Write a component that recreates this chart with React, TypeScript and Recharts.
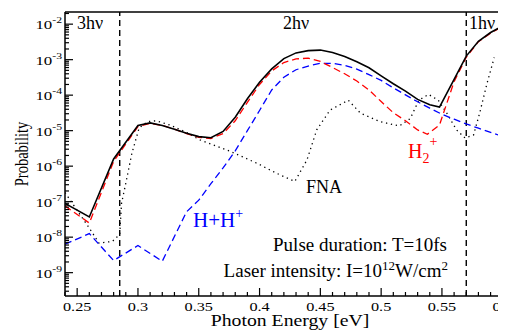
import React from "react";
import { LineChart, Line, XAxis, YAxis, ReferenceLine } from "recharts";

const FONT = '"Liberation Serif", "Times New Roman", serif';

// photon energy (eV) and probability, one pair of arrays per curve
const totalE = [0.24, 0.26, 0.28, 0.3, 0.31, 0.32, 0.33, 0.34, 0.35, 0.36, 0.37, 0.38, 0.39, 0.4, 0.41, 0.42, 0.43, 0.44, 0.45, 0.46, 0.47, 0.48, 0.49, 0.5, 0.51, 0.52, 0.53, 0.54, 0.548, 0.56, 0.57, 0.58, 0.59, 0.6, 0.61];
const totalP = [8.9e-8, 3.7e-8, 1.6e-6, 1.4e-5, 1.65e-5, 1.4e-5, 1.1e-5, 8.5e-6, 6.8e-6, 6.3e-6, 9.5e-6, 2.4e-5, 7.9e-5, 2.3e-4, 5.5e-4, 1.07e-3, 1.55e-3, 1.8e-3, 1.86e-3, 1.6e-3, 1.23e-3, 8.7e-4, 5.9e-4, 3.5e-4, 2.1e-4, 1.3e-4, 7.6e-5, 5.4e-5, 4.6e-5, 2.8e-4, 1.26e-3, 3.3e-3, 5.8e-3, 8.9e-3, 1.17e-2];

const h2E = [0.24, 0.26, 0.28, 0.3, 0.31, 0.32, 0.33, 0.34, 0.35, 0.36, 0.37, 0.38, 0.39, 0.4, 0.41, 0.42, 0.43, 0.44, 0.45, 0.46, 0.47, 0.48, 0.49, 0.5, 0.51, 0.52, 0.53, 0.538, 0.548, 0.554, 0.56, 0.57, 0.58, 0.59, 0.6, 0.61];
const h2P = [7.6e-8, 2.5e-8, 1.35e-6, 1.3e-5, 1.6e-5, 1.4e-5, 1.1e-5, 8.3e-6, 6.5e-6, 6e-6, 8.3e-6, 1.9e-5, 6.3e-5, 2e-4, 4.8e-4, 8.3e-4, 1.05e-3, 1.1e-3, 8.9e-4, 6e-4, 4e-4, 2.5e-4, 1.4e-4, 6.6e-5, 3.2e-5, 1.9e-5, 1.05e-5, 7.9e-6, 1.45e-5, 5.9e-5, 2.4e-4, 1.17e-3, 3.2e-3, 5.6e-3, 8.7e-3, 1.15e-2];

const hhE = [0.24, 0.26, 0.28, 0.3, 0.32, 0.34, 0.35, 0.36, 0.37, 0.38, 0.39, 0.4, 0.41, 0.42, 0.43, 0.44, 0.45, 0.46, 0.47, 0.48, 0.49, 0.5, 0.51, 0.52, 0.53, 0.54, 0.55, 0.56, 0.57, 0.58, 0.59, 0.6, 0.61];
const hhP = [6.3e-9, 1.26e-8, 2.2e-9, 5.8e-9, 2.1e-9, 5.2e-8, 1.1e-7, 3.2e-7, 8.9e-7, 2.7e-6, 1e-5, 3.7e-5, 1.4e-4, 3.2e-4, 5.2e-4, 6.6e-4, 7.9e-4, 7.9e-4, 6.9e-4, 5.4e-4, 3.8e-4, 2.6e-4, 1.6e-4, 1.02e-4, 6.5e-5, 4.3e-5, 2.9e-5, 2.1e-5, 1.55e-5, 1.17e-5, 8.9e-6, 6.9e-6, 5.4e-6];

const fnaE = [0.24, 0.26, 0.268, 0.279, 0.285, 0.2865, 0.29, 0.295, 0.301, 0.308, 0.315, 0.326, 0.34, 0.351, 0.376, 0.398, 0.414, 0.429, 0.439, 0.447, 0.458, 0.473, 0.483, 0.499, 0.515, 0.524, 0.531, 0.539, 0.547, 0.554, 0.562, 0.569, 0.576, 0.581, 0.587, 0.593];
const fnaP = [1.8e-7, 1.8e-8, 6.8e-9, 7.6e-9, 1.2e-8, 9e-8, 3.3e-7, 2.3e-6, 1.2e-5, 1.8e-5, 1.9e-5, 1.45e-5, 8.9e-6, 5.5e-6, 2.6e-6, 1.2e-6, 6.3e-7, 3.7e-7, 1.5e-6, 1.05e-5, 3.8e-5, 7.2e-5, 3.1e-5, 1.8e-5, 1.35e-5, 2.2e-5, 7.2e-5, 1.05e-4, 7.2e-5, 3.1e-5, 1.05e-5, 6.2e-6, 7.6e-6, 3.1e-5, 2.1e-4, 1.15e-3];

const thresholds = [0.285, 0.57];

const xMajor = [0.25, 0.3, 0.35, 0.4, 0.45, 0.5, 0.55, 0.6];
const xMinor = [0.24, 0.26, 0.27, 0.28, 0.29, 0.31, 0.32, 0.33, 0.34, 0.36, 0.37, 0.38, 0.39, 0.41, 0.42, 0.43, 0.44, 0.46, 0.47, 0.48, 0.49, 0.51, 0.52, 0.53, 0.54, 0.56, 0.57, 0.58, 0.59];
const yMajor = [1e-9, 1e-8, 1e-7, 1e-6, 1e-5, 1e-4, 1e-3, 1e-2];
const yMinor: number[] = [];
for (let k = -10; k <= -2; k++) {
  for (let m = 2; m <= 9; m++) {
    const v = m * Math.pow(10, k);
    if (v > 2.2e-10 && v < 2.2e-2) yMinor.push(v);
  }
}

const xTicks = [...xMinor, ...xMajor].sort((a, b) => a - b);
const yTicks = [...yMinor, ...yMajor].sort((a, b) => a - b);

const toRows = (e: number[], p: number[]) => e.map((x, i) => ({ e: x, p: p[i] }));
const totalData = toRows(totalE, totalP);
const h2Data = toRows(h2E, h2P);
const hhData = toRows(hhE, hhP);
const fnaData = toRows(fnaE, fnaP);

const isXMajor = (v: number) => xMajor.some((m) => Math.abs(m - v) < 1e-6);
const isYMajor = (v: number) => Math.abs(Math.log10(v) - Math.round(Math.log10(v))) < 1e-6;

// the axis texts of the original look wider than they are tall
const STRETCH = 1.25;

const BottomTick = (props: any) => {
  const { x, y, payload } = props;
  const major = isXMajor(payload.value);
  return (
    <g>
      <line x1={x} y1={y} x2={x} y2={y - (major ? 8 : 4)} stroke="#000" strokeWidth={1.2} />
      {major && (
        <text
          transform={`translate(${x},${y + 15}) scale(${STRETCH},1)`}
          textAnchor="middle"
          fontSize={13}
          fontFamily={FONT}
          fill="#000"
        >
          {String(payload.value)}
        </text>
      )}
    </g>
  );
};

const TopTick = (props: any) => {
  const { x, y, payload } = props;
  const major = isXMajor(payload.value);
  return <line x1={x} y1={y} x2={x} y2={y + (major ? 8 : 4)} stroke="#000" strokeWidth={1.2} />;
};

const LeftTick = (props: any) => {
  const { x, y, payload } = props;
  const major = isYMajor(payload.value);
  const exp = Math.round(Math.log10(payload.value));
  return (
    <g>
      <line x1={x} y1={y} x2={x + (major ? 8 : 4)} y2={y} stroke="#000" strokeWidth={1.2} />
      {major && (
        <text
          transform={`translate(${x - 3},${y + 5}) scale(1.3,1)`}
          textAnchor="end"
          fontSize={13}
          fontFamily={FONT}
          fill="#000"
        >
          10
          <tspan dy={-6} fontSize={9}>
            {String(exp)}
          </tspan>
        </text>
      )}
    </g>
  );
};

const RightTick = (props: any) => {
  const { x, y, payload } = props;
  const major = isYMajor(payload.value);
  return <line x1={x} y1={y} x2={x - (major ? 8 : 4)} y2={y} stroke="#000" strokeWidth={1.2} />;
};

export default function App() {
  const axisLine = { stroke: "#000", strokeWidth: 1.5 };
  return (
    <div style={{ position: "relative", width: 498, height: 324, overflow: "hidden", background: "#fff" }}>
      <LineChart width={520} height={324} margin={{ top: 0, right: 0, bottom: 0, left: 0 }}>
        <XAxis
          dataKey="e"
          type="number"
          domain={[0.24, 0.6035]}
          allowDataOverflow
          ticks={xTicks}
          interval={0}
          tick={<BottomTick />}
          tickLine={false}
          tickSize={0}
          tickMargin={0}
          axisLine={axisLine}
          height={36}
        />
        <XAxis
          xAxisId="top"
          orientation="top"
          type="number"
          domain={[0.24, 0.6035]}
          allowDataOverflow
          ticks={xTicks}
          interval={0}
          tick={<TopTick />}
          tickLine={false}
          tickSize={0}
          tickMargin={0}
          axisLine={axisLine}
          height={4}
        />
        <YAxis
          type="number"
          scale="log"
          domain={[2.2e-10, 2.2e-2]}
          allowDataOverflow
          ticks={yTicks}
          interval={0}
          tick={<LeftTick />}
          tickLine={false}
          tickSize={0}
          tickMargin={0}
          axisLine={axisLine}
          width={57}
        />
        <YAxis
          yAxisId="right"
          orientation="right"
          type="number"
          scale="log"
          domain={[2.2e-10, 2.2e-2]}
          allowDataOverflow
          ticks={yTicks}
          interval={0}
          tick={<RightTick />}
          tickLine={false}
          tickSize={0}
          tickMargin={0}
          axisLine={axisLine}
          width={21}
        />
        {thresholds.map((t) => (
          <ReferenceLine key={t} x={t} stroke="#000" strokeWidth={1.4} strokeDasharray="6 4" />
        ))}
        <Line data={fnaData} dataKey="p" type="linear" stroke="#000" strokeWidth={1.3} strokeDasharray="1.3 3.7" dot={false} isAnimationActive={false} />
        <Line data={hhData} dataKey="p" type="linear" stroke="#0000ff" strokeWidth={1.3} strokeDasharray="7 4" dot={false} isAnimationActive={false} />
        <Line data={h2Data} dataKey="p" type="linear" stroke="#ff0000" strokeWidth={1.3} strokeDasharray="7 4" dot={false} isAnimationActive={false} />
        <Line data={totalData} dataKey="p" type="linear" stroke="#000" strokeWidth={1.6} dot={false} isAnimationActive={false} />
      </LineChart>
      <svg width={498} height={324} style={{ position: "absolute", left: 0, top: 0, pointerEvents: "none" }} fontFamily={FONT}>
        <text x={69} y={21} fontSize={18}>3hν</text>
        <text x={275} y={21} fontSize={18}>2hν</text>
        <text x={461} y={21} fontSize={18}>1hν</text>
        <text x={298} y={185} fontSize={18}>FNA</text>
        <text x={185} y={219} fontSize={21} fill="#0000ff">
          H+H<tspan dy={-9} fontSize={14}>+</tspan>
        </text>
        <text x={400} y={150} fontSize={20} fill="#ff0000">
          H<tspan dy={5} fontSize={14}>2</tspan>
          <tspan dy={-17} fontSize={14}>+</tspan>
        </text>
        <text x={439} y={243} fontSize={19} textAnchor="end">Pulse duration: T=10fs</text>
        <text x={440} y={269} fontSize={19} textAnchor="end">
          Laser intensity: I=10<tspan dy={-7} fontSize={13}>12</tspan>
          <tspan dy={7}>W/cm</tspan>
          <tspan dy={-7} fontSize={13}>2</tspan>
        </text>
        <text transform={`translate(20,146) scale(${STRETCH},1) rotate(-90)`} fontSize={14.5} textAnchor="middle">
          Probability
        </text>
        <text transform={`translate(282,318) scale(${STRETCH},1)`} fontSize={15.8} textAnchor="middle">
          Photon Energy [eV]
        </text>
      </svg>
    </div>
  );
}
